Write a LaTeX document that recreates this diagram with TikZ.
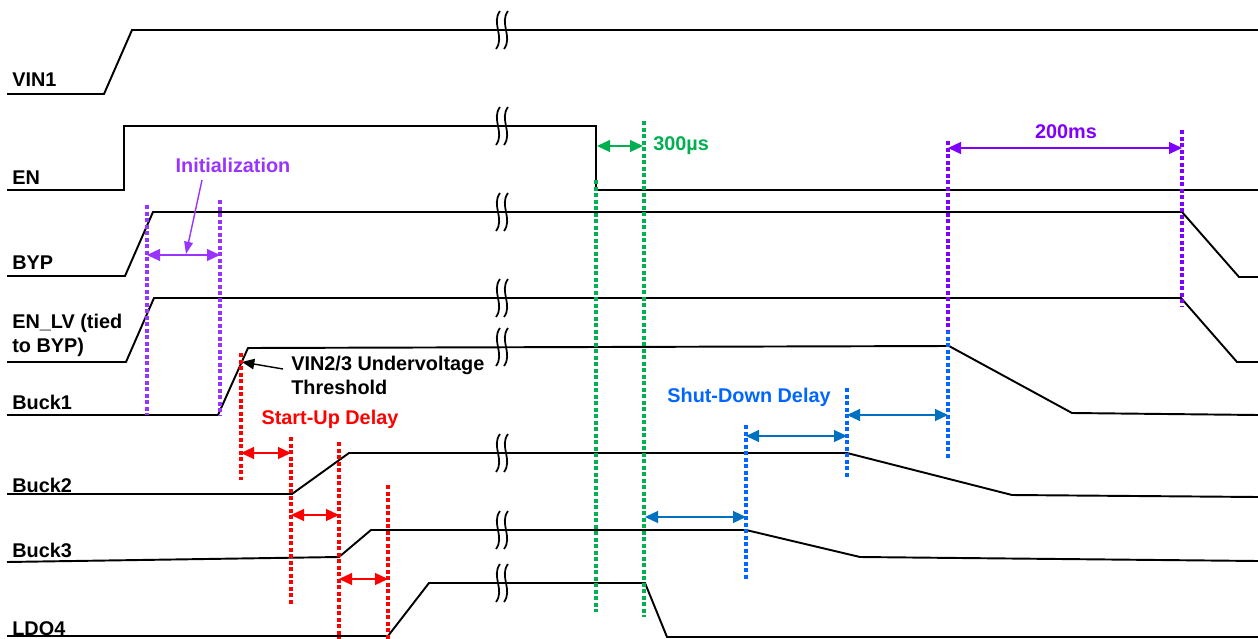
\documentclass[tikz,border=0pt]{standalone}
\usepackage{fontspec}
\setmainfont{Liberation Sans}
\usepackage{tikz}
\usetikzlibrary{positioning,arrows.meta,calc}

\definecolor{initviolet}{RGB}{153,51,255}
\definecolor{msviolet}{RGB}{127,0,255}
\definecolor{supred}{RGB}{255,0,0}
\definecolor{usgreen}{RGB}{0,176,80}
\definecolor{sdblue}{RGB}{0,102,255}
\definecolor{sdarrow}{RGB}{0,112,192}

\begin{document}
\begin{tikzpicture}[x=0.02cm, y=-0.02cm,
  signal/.style={line width=1.1pt},
  marker/.style={line width=2.1pt, dash pattern=on 2.4pt off 1.3pt},
  span/.style={line width=0.8pt, {Triangle[length=7.4pt,width=6.8pt]}-{Triangle[length=7.4pt,width=6.8pt]}},
  lbl/.style={font=\bfseries\fontsize{11.3}{13.6}\selectfont, inner sep=0pt, anchor=west, align=left},
  note/.style={font=\bfseries\fontsize{11.3}{13.6}\selectfont, inner sep=0pt, align=left}]
\useasboundingbox (0,0) rectangle (1258,639);

% Signal names
\node[lbl] (vin1) at (12,80) {VIN1};
\node[lbl] (en) at (12,178) {EN};
\node[lbl] (byp) at (12,263) {BYP};
\node[lbl] (enlv) at (12,335) {EN\_LV (tied\\to BYP)};
\node[lbl] (buck1) at (12,402) {Buck1};
\node[lbl] (buck2) at (12,485) {Buck2};
\node[lbl] (buck3) at (12,550) {Buck3};
\node[lbl] (ldo4) at (12,629) {LDO4};

% Waveforms
\draw[signal] (7,94) -- (104,94) -- (132,30) -- (1258,30);
\draw[signal] (7,190) -- (124,190) -- (124,126) -- (596,126) -- (596,190) -- (1258,190);
\draw[signal] (7,276) -- (125,276) -- (153,212) -- (1182,212) -- (1239,277) -- (1258,277);
\draw[signal] (7,362) -- (126,362) -- (154,298) -- (1181,298) -- (1237,362) -- (1258,362);
\draw[signal] (7,415) -- (218,415) -- (248,348) -- (949,346) -- (1072,413) -- (1258,415);
\draw[signal] (7,494) -- (292,494) -- (349,453) -- (847,453) -- (1012,495) -- (1258,497);
\draw[signal] (7,562) -- (339,557) -- (371,530) -- (746,530) -- (860,557) -- (1258,561);
\draw[signal] (7,636) -- (388,636) -- (429,583) -- (645,583) -- (667,637) -- (1258,637);

% Time breaks
\foreach \by in {30,126,212,298,347,453,530,583}
  \foreach \bx in {498,506}
    \draw[line width=1pt] (\bx+2,\by-19) .. controls (\bx-7,\by-7) and (\bx+7,\by+7) .. (\bx-2,\by+19);

% Initialization
\draw[marker, initviolet] (147,205) -- (147,415);
\draw[marker, initviolet] (220,200) -- (220,415);
\coordinate (ia) at (147,255);
\coordinate (ib) at (220,255);
\draw[span, initviolet] (ia) -- (ib);
\node[note, text=initviolet] (init) at (233,165) {Initialization};
\coordinate (ip) at (186,254);
\draw[initviolet, line width=0.8pt, -{Triangle[length=7pt,width=5pt]}] (202,180) -- (ip);

% Undervoltage threshold
\node[note, anchor=west] (uvlo) at (291,375.5) {VIN2/3 Undervoltage\\Threshold};
\coordinate (uv) at (242,362);
\draw[line width=0.8pt, -{Triangle[length=7pt,width=6pt]}] (283,369) -- (uv);

% Start-Up Delay
\draw[marker, supred] (241,353) -- (241,480);
\draw[marker, supred] (291,437) -- (291,605);
\draw[marker, supred] (339,442) -- (339,639);
\draw[marker, supred] (388,485) -- (388,639);
\coordinate (sa) at (241,453);
\coordinate (sb) at (291,453);
\coordinate (sc) at (291,515);
\coordinate (sd) at (339,515);
\coordinate (se) at (339,579);
\coordinate (sf) at (388,579);
\draw[span, supred] (sa) -- (sb);
\draw[span, supred] (sc) -- (sd);
\draw[span, supred] (se) -- (sf);
\node[note, text=supred] (startup) at (330,419) {Start-Up Delay};

% 300us
\draw[marker, usgreen] (596,180) -- (596,612);
\draw[marker, usgreen] (644,121) -- (644,617);
\coordinate (ga) at (597,146);
\coordinate (gb) at (643,146);
\draw[span, usgreen] (ga) -- (gb);
\node[note, text=usgreen, anchor=west] (t300) at (653,146) {300µs};

% Shut-Down Delay
\draw[marker, sdblue] (746,425) -- (746,580);
\draw[marker, sdblue] (847,388) -- (847,478);
\draw[marker, sdblue] (948,330) -- (948,460);
\coordinate (da) at (645,517);
\coordinate (db) at (746,517);
\coordinate (dc) at (746,436);
\coordinate (dd) at (847,436);
\coordinate (de) at (847,415);
\coordinate (df) at (948,415);
\draw[span, sdarrow] (da) -- (db);
\draw[span, sdarrow] (dc) -- (dd);
\draw[span, sdarrow] (de) -- (df);
\node[note, text=sdblue] (shutdown) at (749,397) {Shut-Down Delay};

% 200ms
\draw[marker, msviolet] (948,141) -- (948,330);
\draw[marker, msviolet] (1182,130) -- (1182,307);
\coordinate (ma) at (948,148);
\coordinate (mb) at (1182,148);
\draw[span, msviolet] (ma) -- (mb);
\node[note, text=msviolet] (t200) at (1066,132) {200ms};

\end{tikzpicture}
\end{document}
